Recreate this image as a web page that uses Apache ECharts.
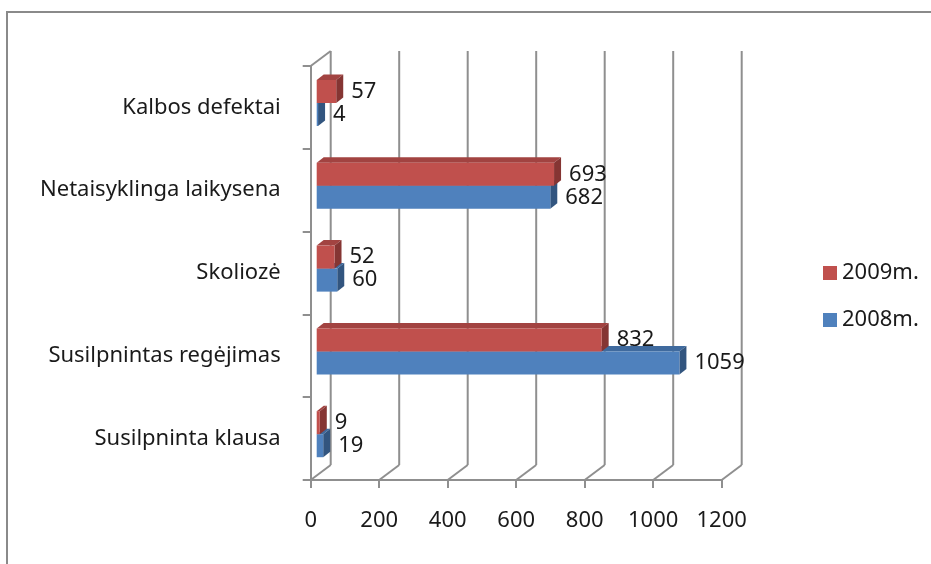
<!DOCTYPE html>
<html>
<head>
<meta charset="utf-8">
<script src="https://cdn.jsdelivr.net/npm/echarts@6/dist/echarts.min.js"></script>
<style>
  html, body { margin: 0; padding: 0; background: #fff; }
  #chart { width: 931px; height: 564px; }
</style>
</head>
<body>
<div id="chart"></div>
<script>
// kategorijos (is apacios i virsu)
var categories = ['Susilpninta klausa', 'Susilpnintas regėjimas', 'Skoliozė', 'Netaisyklinga laikysena', 'Kalbos defektai']
var data2008 = [19, 1059, 60, 682, 4]
var data2009 = [9, 832, 52, 693, 57]
var xTicks = [0, 200, 400, 600, 800, 1000, 1200]

var FONT = 'Noto Sans'
// 3D imitacija: galine siena ir stulpeliu gylis
var WALL_DX = 20, WALL_DY = -15
var BAR_OX = 6, BAR_OY = -4.4
var BAR_DX = 7, BAR_DY = -5.5

var chart = echarts.init(document.getElementById('chart'))

function wallItem(params, api) {
  var cs = params.coordSys
  var v = api.value(0)
  var x = api.coord([v, 0])[0]
  var top = cs.y
  var bottom = cs.y + cs.height
  var lineStyle = { stroke: '#8f8f8f', lineWidth: 2 }
  var children = [
    { type: 'line', shape: { x1: x + WALL_DX, y1: top + WALL_DY, x2: x + WALL_DX, y2: bottom + WALL_DY }, style: lineStyle },
    { type: 'line', shape: { x1: x, y1: bottom, x2: x + WALL_DX, y2: bottom + WALL_DY }, style: lineStyle }
  ]
  if (v === 0) {
    children.push({ type: 'line', shape: { x1: x, y1: top, x2: x + WALL_DX, y2: top + WALL_DY }, style: lineStyle })
  }
  return { type: 'group', children: children }
}

function makeBar(front, topC, side, upper) {
  return function(params, api) {
    var val = api.value(0)
    var idx = api.value(1)
    var end = api.coord([val, idx])
    var start = api.coord([0, idx])
    var band = api.size([0, 1])[1]
    var h = band * 0.278
    var x0 = start[0] + BAR_OX
    var x1 = end[0] + BAR_OX
    var y0 = end[1] + BAR_OY - (upper ? h : 0)
    var y1 = y0 + h
    return {
      type: 'group',
      children: [
        { type: 'polygon', shape: { points: [[x0, y0], [x0 + BAR_DX, y0 + BAR_DY], [x1 + BAR_DX, y0 + BAR_DY], [x1, y0]] }, style: { fill: topC } },
        { type: 'polygon', shape: { points: [[x1, y0], [x1 + BAR_DX, y0 + BAR_DY], [x1 + BAR_DX, y1 + BAR_DY], [x1, y1]] }, style: { fill: side } },
        { type: 'rect', shape: { x: x0, y: y0, width: x1 - x0, height: h }, style: { fill: front } },
        {
          type: 'text',
          style: {
            x: x1 + BAR_DX + 8, y: (y0 + y1) / 2,
            text: String(val),
            fill: '#1a1a1a',
            font: '22px "' + FONT + '"',
            textAlign: 'left', textVerticalAlign: 'middle'
          }
        }
      ]
    }
  }
}

chart.setOption({
  backgroundColor: '#fff',
  animation: false,
  graphic: [{
    type: 'rect',
    shape: { x: 7, y: 12, width: 1000, height: 1000 },
    style: { fill: 'none', stroke: '#8a8a8a', lineWidth: 2 },
    silent: true
  }],
  grid: { left: 310.7, top: 66, width: 411, height: 414 },
  legend: {
    orient: 'vertical',
    left: 818,
    top: 257,
    data: ['2009m.', '2008m.'],
    icon: 'rect',
    itemWidth: 14,
    itemHeight: 14,
    itemGap: 25,
    textStyle: { fontFamily: FONT, fontSize: 22, color: '#1a1a1a' }
  },
  xAxis: {
    type: 'value',
    min: 0,
    max: 1200,
    interval: 200,
    axisLine: { show: true, lineStyle: { color: '#8f8f8f', width: 2 } },
    axisTick: { show: true, length: 8, lineStyle: { color: '#8f8f8f', width: 2 } },
    axisLabel: {
      margin: 30, fontFamily: FONT, fontSize: 22, color: '#1a1a1a',
      formatter: function(v) { return String(v) }
    },
    splitLine: { show: false }
  },
  yAxis: {
    type: 'category',
    data: categories,
    axisLine: { show: true, lineStyle: { color: '#8f8f8f', width: 2 } },
    axisTick: { show: true, length: 8, lineStyle: { color: '#8f8f8f', width: 2 } },
    axisLabel: { margin: 30, fontFamily: FONT, fontSize: 22, color: '#1a1a1a' },
    splitLine: { show: false }
  },
  series: [
    {
      type: 'custom',
      name: 'walls',
      silent: true,
      z: 1,
      renderItem: wallItem,
      encode: { x: 0, y: 1 },
      data: xTicks.map(function(v) { return [v, 0] })
    },
    {
      type: 'custom',
      name: '2008m.',
      z: 2,
      itemStyle: { color: '#4F81BD' },
      renderItem: makeBar('#4F81BD', '#3F6A9E', '#32557F', false),
      encode: { x: 0, y: 1 },
      data: data2008.map(function(v, i) { return [v, i] })
    },
    {
      type: 'custom',
      name: '2009m.',
      z: 3,
      itemStyle: { color: '#C0504D' },
      renderItem: makeBar('#C0504D', '#A24341', '#853533', true),
      encode: { x: 0, y: 1 },
      data: data2009.map(function(v, i) { return [v, i] })
    }
  ]
})
</script>
</body>
</html>
